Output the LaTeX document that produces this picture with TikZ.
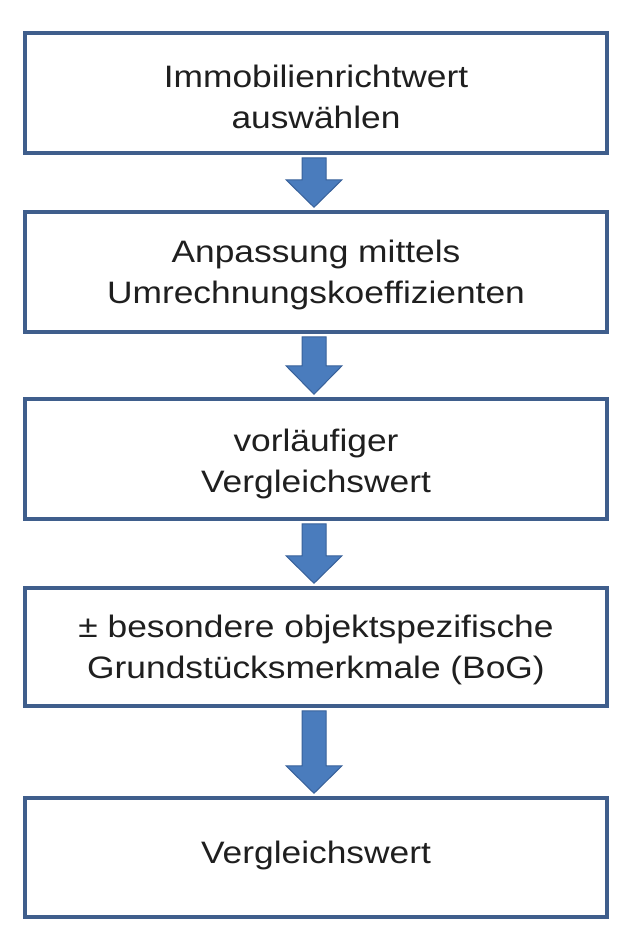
\documentclass[tikz,border=0pt]{standalone}
\usepackage{fontspec}
\usetikzlibrary{calc}
\setmainfont{Liberation Sans}[FakeStretch=1.14]
\begin{document}
\begin{tikzpicture}[x=1bp,y=-1bp,
  box/.style={draw=boxc, line width=4.5bp, fill=white, minimum width=582bp, inner sep=0pt},
  label/.style={inner sep=0pt, align=center, font=\fontsize{31bp}{41bp}\selectfont, text=black!88},
  blockarrow/.style={fill=arrowc, draw=arrowedge, line width=1bp}]
\definecolor{boxc}{HTML}{3F5E8C}
\definecolor{arrowc}{HTML}{4A7CBD}
\definecolor{arrowedge}{HTML}{38619A}
\useasboundingbox (0,0) rectangle (627,937);
\fill[white] (0,0) rectangle (627,937);
\node[box, minimum height=120bp] (b1) at (316,93) {};
\node[box, minimum height=120bp] (b2) at (316,272) {};
\node[box, minimum height=120bp] (b3) at (316,459) {};
\node[box, minimum height=118bp] (b4) at (316,647) {};
\node[box, minimum height=119bp] (b5) at (316,857.5) {};
\node[label] (t1) at ($(b1.center)+(0,4)$) {Immobilienrichtwert\\auswählen};
\node[label] (t2) at ($(b2.center)+(0,3)$) {Anpassung mittels\\Umrechnungskoeffizienten};
\node[label] (t3) at ($(b3.center)+(0,5)$) {vorläufiger\\Vergleichswert};
\node[label] (t4) at ($(b4.center)+(0,3)$) {± besondere objektspezifische\\Grundstücksmerkmale (BoG)};
\node[label] (t5) at ($(b5.center)+(0,-2)$) {Vergleichswert};
% block arrows
\foreach \a/\b/\h in {b1/b2/30, b2/b3/31, b3/b4/30, b4/b5/30}{
  \path (\a.south) ++(-2,0) coordinate (s) (\b.north) ++(-2,0) coordinate (t);
  \draw[blockarrow]
    ($(s)+(-12,2.5)$) -- ($(t)+(-12,-\h)$) -- ($(t)+(-28,-\h)$) -- ($(t)+(0,-2.5)$)
    -- ($(t)+(28,-\h)$) -- ($(t)+(12,-\h)$) -- ($(s)+(12,2.5)$) -- cycle;
}
\end{tikzpicture}
\end{document}
